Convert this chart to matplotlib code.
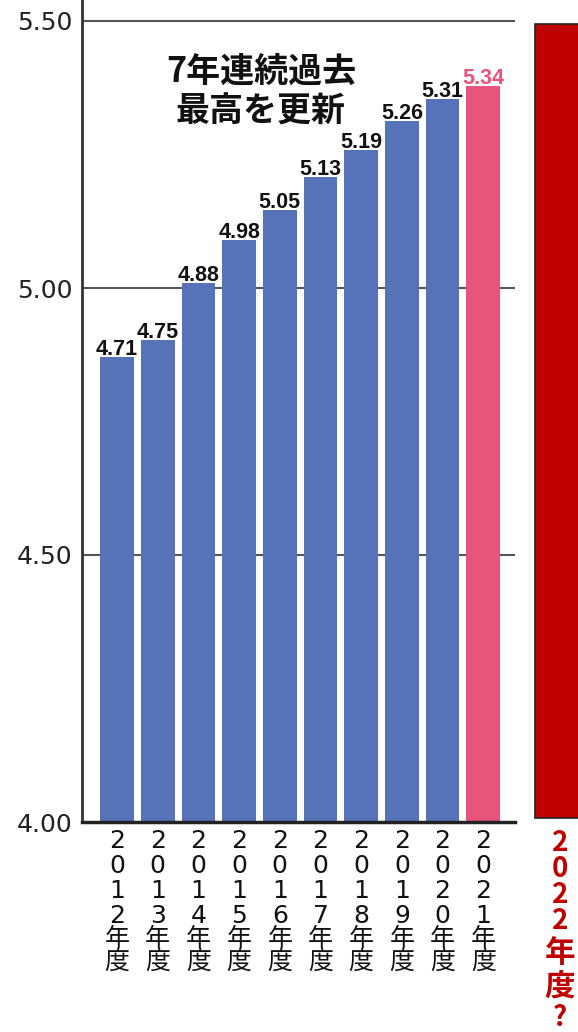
import matplotlib
matplotlib.use("Agg")
import matplotlib.pyplot as plt
from matplotlib.patches import Rectangle
from matplotlib.transforms import blended_transform_factory, offset_copy

plt.rcParams['font.family'] = ['DejaVu Sans', 'Noto Sans CJK JP']

# ---- data ----
years = ["2012", "2013", "2014", "2015", "2016", "2017", "2018", "2019", "2020", "2021"]
value_labels = ["4.71", "4.75", "4.88", "4.98", "5.05", "5.13", "5.19", "5.26", "5.31", "5.34"]
# bar tops as drawn in the picture, read against the y axis
bar_tops = [4.871, 4.903, 5.009, 5.090, 5.146, 5.208, 5.258, 5.313, 5.354, 5.378]
yticks = [4.00, 4.50, 5.00, 5.50]
ytick_labels = ["4.00", "4.50", "5.00", "5.50"]
note_lines = ["7年連続過去", "最高を更新"]
next_label = "2022年度?"

BLUE = "#5672b9"
PINK = "#e8547c"
RED = "#c00000"

W, H = 578, 1032
fig = plt.figure(figsize=(W / 100, H / 100), dpi=100)
fig.patch.set_facecolor("white")

ax_left, ax_right, ax_bottom_px = 82, 515, 822
ax = fig.add_axes([ax_left / W, (H - ax_bottom_px) / H, (ax_right - ax_left) / W, ax_bottom_px / H])

n = len(years)
xs = list(range(n))
colors = [BLUE] * (n - 1) + [PINK]
ax.bar(xs, [t - 4.0 for t in bar_tops], bottom=4.0, width=0.83, color=colors, zorder=3)

ax.set_ylim(4.0, 5.5 + 21 / 534)
pitch = 40.7
ax.set_xlim((ax_left - 117) / pitch, (ax_right - 117) / pitch)

ax.set_yticks(yticks)
ax.set_yticklabels(ytick_labels, fontsize=18, color="#222222")
ax.tick_params(axis="y", length=0, pad=7)
ax.set_xticks([])
for yv in yticks[1:]:
    ax.axhline(yv, color="#555555", lw=1.5, zorder=1)

for s in ["top", "right"]:
    ax.spines[s].set_visible(False)
ax.spines["left"].set_color("#333333")
ax.spines["left"].set_linewidth(2)
ax.spines["bottom"].set_color("#222222")
ax.spines["bottom"].set_linewidth(2.5)
ax.spines["left"].set_zorder(5)
ax.spines["bottom"].set_zorder(5)

# value labels
lab_tr = offset_copy(ax.transData, fig=fig, y=1.5, units="points")
for i, (t, lab) in enumerate(zip(bar_tops, value_labels)):
    ax.text(i, t, lab, transform=lab_tr, ha="center", va="baseline",
            fontsize=15.5, fontweight="bold", color=(PINK if i == n - 1 else "#111111"),
            family=["Liberation Sans Narrow", "Liberation Sans"], zorder=6)

# annotation
for line, yp in zip(note_lines, [71, 111]):
    fig.text(261 / W, 1 - yp / H, line, ha="center", va="center",
             fontsize=24.5, fontweight="bold", color="#111111",
             family=["Noto Sans CJK JP"])

# vertical x labels (one character per line)
trx = blended_transform_factory(ax.transData, fig.transFigure)
char_y = [841, 866, 891, 916, 939, 962]
for i, yr in enumerate(years):
    chars = list(yr) + ["年", "度"]
    for c, yp in zip(chars, char_y):
        ax.text(i, 1 - yp / H, c, transform=trx, ha="center", va="center",
                fontsize=18, color="#111111", family=["DejaVu Sans", "Noto Sans CJK JP"])

# red placeholder bar for next year
fig.patches.append(Rectangle((535 / W, 1 - 818 / H), 60 / W, (818 - 24) / H,
                             transform=fig.transFigure, facecolor=RED,
                             edgecolor="#222222", lw=1.2, zorder=2))
red_y = [843, 869, 895, 921, 953, 988, 1018]
red_size = [20, 20, 20, 20, 22, 22, 20]
for c, yp, fs in zip(list(next_label), red_y, red_size):
    fig.text(560 / W, 1 - yp / H, c, ha="center", va="center", fontsize=fs,
             fontweight="bold", color=RED, family=["Noto Sans CJK JP"])

fig.savefig("out.png", dpi=100)
